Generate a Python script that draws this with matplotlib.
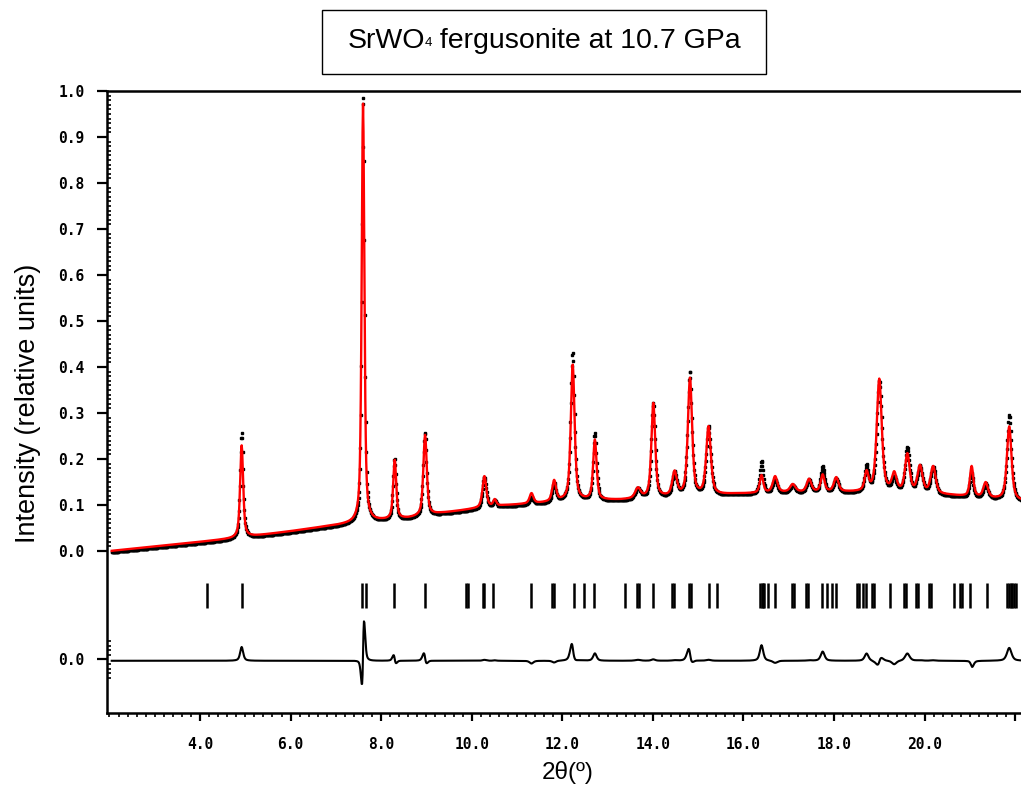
import numpy as np
import matplotlib
matplotlib.use('Agg')
import matplotlib.pyplot as plt
from matplotlib.patches import Rectangle

# ---------------- data ----------------
scan_start, scan_end, scan_step = 2.05, 22.2, 0.01

# background (2theta, intensity)
bg_pos = [2.0, 3.0, 4.0, 4.7, 5.2, 6.0, 6.6, 7.2, 8.0, 8.6, 9.3, 10.0, 10.7,
          11.5, 12.0, 12.6, 13.3, 14.2, 15.0, 15.8, 16.9, 18.3, 19.4, 20.6,
          21.3, 22.2]
bg_val = [0.000, 0.010, 0.020, 0.027, 0.033, 0.043, 0.051, 0.058, 0.066,
          0.071, 0.082, 0.091, 0.099, 0.104, 0.108, 0.110, 0.111, 0.116,
          0.119, 0.124, 0.127, 0.128, 0.127, 0.121, 0.115, 0.108]

# reflections: position, calculated / observed height above background, FWHM,
# and the small shift of the observed peak relative to the calculated one
peak_pos = [4.92, 7.60, 8.30, 8.97, 10.28, 10.51, 11.32, 11.82, 12.23, 12.72,
            13.67, 14.01, 14.48, 14.82, 15.23, 16.40, 16.70, 17.09, 17.45,
            17.75, 18.05, 18.72, 19.00, 19.33, 19.62, 19.90, 20.19, 21.04,
            21.35, 21.87]
calc_height = [0.20, 0.91, 0.128, 0.175, 0.068, 0.014, 0.022, 0.045, 0.295,
               0.130, 0.022, 0.205, 0.052, 0.255, 0.148, 0.038, 0.035, 0.017,
               0.028, 0.037, 0.031, 0.040, 0.245, 0.038, 0.082, 0.058, 0.059,
               0.066, 0.033, 0.160]
obs_height = [0.23, 0.935, 0.133, 0.183, 0.070, 0.015, 0.016, 0.041, 0.325,
              0.146, 0.024, 0.208, 0.053, 0.272, 0.150, 0.072, 0.030, 0.017,
              0.029, 0.057, 0.031, 0.056, 0.243, 0.030, 0.098, 0.059, 0.060,
              0.054, 0.033, 0.188]
peak_fwhm = [0.08, 0.07, 0.08, 0.09, 0.10, 0.08, 0.10, 0.10, 0.10, 0.09,
             0.14, 0.10, 0.12, 0.11, 0.12, 0.09, 0.12, 0.14, 0.12, 0.10,
             0.12, 0.10, 0.13, 0.12, 0.12, 0.13, 0.13, 0.09, 0.12, 0.12]
obs_shift = [0.0, 0.004, -0.004, -0.004, 0.0, 0.0, 0.0, 0.0, -0.003, 0.0,
             0.0, 0.0, 0.0, -0.004, 0.0, 0.0, 0.0, 0.0, 0.0,
             0.0, 0.0, 0.0, 0.003, 0.0, 0.0, 0.0, 0.0, -0.004,
             0.0, 0.0]

# Bragg reflection markers
bragg_pos = [4.15, 4.92, 7.57, 7.66, 8.29, 8.97, 9.87, 9.91, 10.24, 10.28,
             10.48, 11.32, 11.78, 11.82, 12.25, 12.47, 12.69, 13.39, 13.64,
             13.70, 14.01, 14.43, 14.47, 14.80, 14.84, 15.23, 15.41, 16.37,
             16.40, 16.43, 16.46, 16.55, 16.70, 17.07, 17.12, 17.38, 17.42,
             17.73, 17.84, 17.95, 18.05, 18.50, 18.56, 18.63, 18.71, 18.85,
             18.89, 19.24, 19.55, 19.59, 19.81, 19.85, 20.10, 20.14, 20.64,
             20.78, 20.82, 21.01, 21.37, 21.82, 21.86, 21.90, 21.94, 21.98,
             22.02]

xtick_vals = [4.0, 6.0, 8.0, 10.0, 12.0, 14.0, 16.0, 18.0, 20.0, 22.0]
xtick_labels = ['4.0', '6.0', '8.0', '10.0', '12.0', '14.0', '16.0', '18.0', '20.0', '']
ytick_vals = [0.0, 0.1, 0.2, 0.3, 0.4, 0.5, 0.6, 0.7, 0.8, 0.9, 1.0]
ytick_labels = ['0.0', '0.1', '0.2', '0.3', '0.4', '0.5', '0.6', '0.7', '0.8', '0.9', '1.0']
diff_offset = -0.2355
bragg_band = (-0.123, -0.069)

title_parts = ['SrWO', '4', ' fergusonite at 10.7 GPa']
ylabel_text = 'Intensity (relative units)'
xlabel_text = '2θ(º)'

# ---------------- profiles ----------------
tt = np.arange(scan_start, scan_end, scan_step)
bg = np.interp(tt, bg_pos, bg_val)


def pseudo_voigt(x, x0, h, w, eta=0.6):
    d = (x - x0) / w
    return h * (eta / (1 + 4 * d ** 2) + (1 - eta) * np.exp(-4 * np.log(2) * d ** 2))


calc = bg.copy()
obs = bg.copy() - 0.003
for p, hc, ho, w, s in zip(peak_pos, calc_height, obs_height, peak_fwhm, obs_shift):
    calc += pseudo_voigt(tt, p, hc, w)
    obs += pseudo_voigt(tt, p + s, ho, w)
diff = obs - calc + diff_offset

# ---------------- figure ----------------
plt.rcParams['font.family'] = ['Liberation Sans', 'DejaVu Sans']

W, H = 1021, 792
fig = plt.figure(figsize=(W / 100, H / 100), dpi=100)
ax = fig.add_axes([107 / W, 1 - 713 / H, (W - 107) / W, (713 - 91) / H])

ax.plot(tt, obs, ls='none', marker='s', ms=1.9, color='black', zorder=2)
ax.plot(tt, calc, color='#ff0000', lw=1.7, zorder=3)
ax.plot(tt, diff, color='black', lw=1.5, zorder=3)
ax.vlines(bragg_pos, bragg_band[0], bragg_band[1], color='black', lw=1.8)

ax.set_xlim(1.946, 22.13)
ax.set_ylim(-0.352, 1.0)

for s in ['left', 'bottom', 'top']:
    ax.spines[s].set_linewidth(1.8)
ax.spines['right'].set_visible(False)

ax.set_xticks(xtick_vals)
ax.set_xticklabels(xtick_labels)
ax.set_xticks(np.arange(2.0, 22.2, 0.2), minor=True)
ax.set_yticks(ytick_vals + [diff_offset])
ax.set_yticklabels(ytick_labels + ['0.0'])
yminor = list(np.arange(0.0, 1.0, 0.01)) + list(diff_offset + np.arange(-0.04, 0.05, 0.01))
ax.set_yticks(yminor, minor=True)

ax.tick_params(axis='x', which='major', direction='out', length=6, width=1.6, pad=11)
ax.tick_params(axis='x', which='minor', direction='out', length=3, width=1.2)
ax.tick_params(axis='y', which='major', direction='out', length=7, width=1.6, pad=9)
ax.tick_params(axis='y', which='minor', direction='in', length=3, width=1.2)
ax.tick_params(top=False, right=False, which='both')

for lbl in ax.get_xticklabels() + ax.get_yticklabels():
    lbl.set_fontfamily('DejaVu Sans Mono')
    lbl.set_fontweight('bold')
    lbl.set_fontsize(10.5)

fig.text(28 / W, 1 - 403 / H, ylabel_text, rotation=90, ha='center', va='center', fontsize=19.5)
fig.text(568 / W, 1 - 772 / H, xlabel_text, ha='center', va='center', fontsize=17.5)

# title box
fig.patches.append(Rectangle((322 / W, 1 - 74 / H), 444 / W, 64 / H,
                             transform=fig.transFigure, fill=False,
                             edgecolor='black', lw=1.0))
renderer = fig.canvas.get_renderer()
sizes = [20.5, 9.5, 20.5]
raise_px = [0, 2, 0]
texts = [fig.text(0, 0, t, fontsize=fs, ha='left', va='baseline') for t, fs in zip(title_parts, sizes)]
widths = [t.get_window_extent(renderer).width for t in texts]
x_px = 544 - sum(widths) / 2
baseline_px = 48
for t, w, r in zip(texts, widths, raise_px):
    t.set_position((x_px / W, 1 - (baseline_px - r) / H))
    x_px += w

fig.savefig('out.png', dpi=100)
